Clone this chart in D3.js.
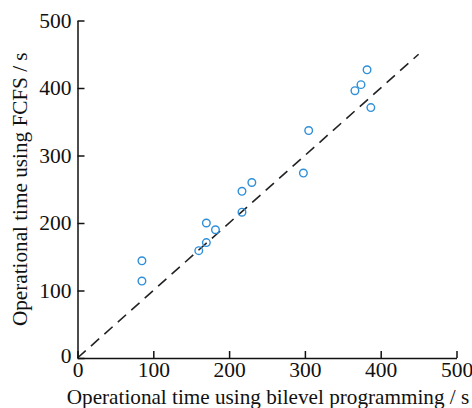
<!DOCTYPE html>
<html>
<head>
<meta charset="utf-8">
<script src="https://cdn.jsdelivr.net/npm/d3@7"></script>
<style>
  html, body { margin: 0; padding: 0; background: #fff; }
  svg { display: block; }
  .axis text { font-family: "Liberation Serif", "DejaVu Serif", serif; font-size: 21.5px; fill: #111; }
  .axis path, .axis line { stroke: #111; stroke-width: 1.5; }
</style>
</head>
<body>
<svg id="chart" width="472" height="408"></svg>
<script>
// operational time pairs (bilevel vs FCFS), seconds
const bilevelTimes = [85, 85, 160, 170, 170, 182, 217, 217, 230, 298, 305, 366, 374, 382, 387]
const fcfsTimes = [144, 114, 159, 171, 200, 190, 216, 247, 260, 274, 337, 396, 405, 427, 371]
const xTicks = [0, 100, 200, 300, 400, 500]
const yTicks = [0, 100, 200, 300, 400, 500]
const refLine = [0, 450]

const xLabel = 'Operational time using bilevel programming / s'
const yLabel = 'Operational time using FCFS / s'

const svg = d3.select('#chart')
const margin = { left: 77.5, right: 15.5, top: 20.5, bottom: 50 }
const W = 472
const H = 408

const x = d3.scaleLinear().domain([0, 500]).range([margin.left, W - margin.right])
const y = d3.scaleLinear().domain([0, 500]).range([H - margin.bottom, margin.top])

// reference y = x line
svg.append('line')
  .attr('x1', x(refLine[0])).attr('y1', y(refLine[0]))
  .attr('x2', x(refLine[1])).attr('y2', y(refLine[1]))
  .attr('stroke', '#222')
  .attr('stroke-width', 1.6)
  .attr('stroke-dasharray', '11,7')

const points = bilevelTimes.map((b, i) => ({ b, f: fcfsTimes[i] }))

svg.append('g')
  .selectAll('circle')
  .data(points)
  .join('circle')
  .attr('cx', (d) => x(d.b))
  .attr('cy', (d) => y(d.f))
  .attr('r', 3.8)
  .attr('fill', 'none')
  .attr('stroke', '#2f8fd8')
  .attr('stroke-width', 1.4)

svg.append('g')
  .attr('class', 'axis')
  .attr('transform', `translate(0,${y(0)})`)
  .call(d3.axisBottom(x).tickValues(xTicks).tickSizeInner(-7).tickSizeOuter(0).tickPadding(4).tickFormat(d3.format('d')))

const yAxis = svg.append('g')
  .attr('class', 'axis')
  .attr('transform', `translate(${x(0)},0)`)
  .call(d3.axisLeft(y).tickValues(yTicks).tickSizeInner(-7).tickSizeOuter(0).tickPadding(6).tickFormat(d3.format('d')))

// nudge the shared origin labels apart a little
yAxis.selectAll('.tick text').filter((d) => d === 0).attr('dy', '0.22em')

const labelFont = '"Liberation Serif", "DejaVu Serif", serif'

svg.append('text')
  .attr('x', (x(0) + x(500)) / 2 + 1)
  .attr('y', 404)
  .attr('text-anchor', 'middle')
  .style('font-family', labelFont)
  .style('font-size', '21.2px')
  .attr('fill', '#111')
  .text(xLabel)

svg.append('text')
  .attr('transform', `translate(27,${(y(0) + y(500)) / 2}) rotate(-90)`)
  .attr('text-anchor', 'middle')
  .style('font-family', labelFont)
  .style('font-size', '21.2px')
  .attr('fill', '#111')
  .text(yLabel)
</script>
</body>
</html>
